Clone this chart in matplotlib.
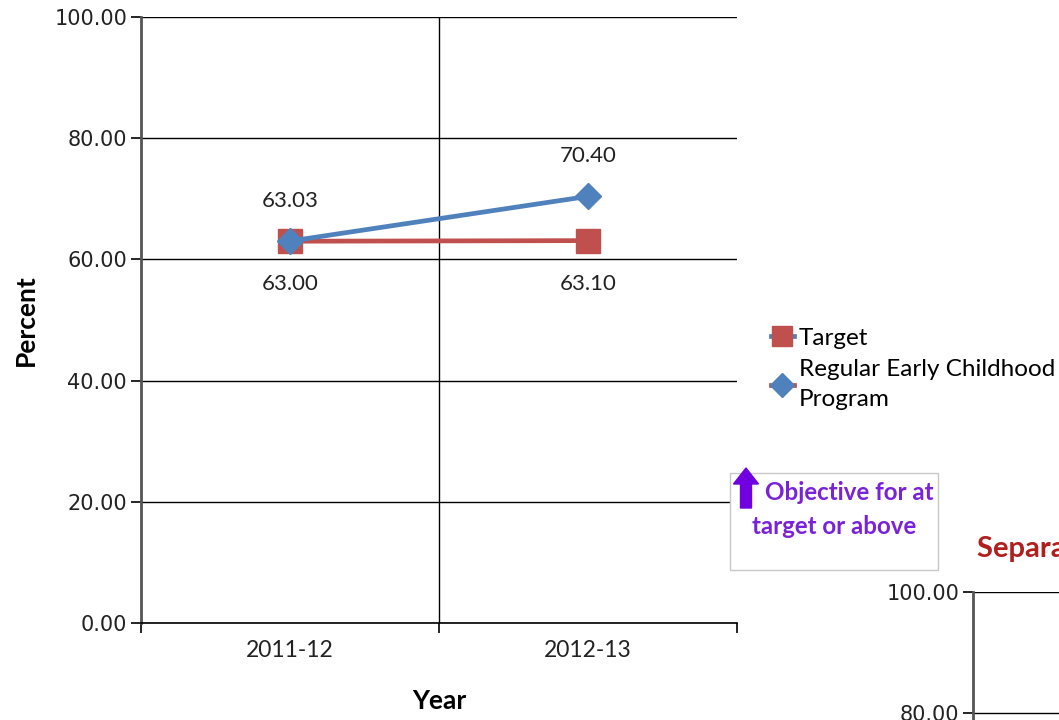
import matplotlib
matplotlib.use("Agg")
import matplotlib.pyplot as plt
from matplotlib.lines import Line2D
from matplotlib.patches import Rectangle, FancyArrow

years = ["2011-12", "2012-13"]
target = [63.00, 63.10]
program = [63.03, 70.40]
yticks = [0, 20, 40, 60, 80, 100]
series_names = ["Target", "Regular Early Childhood\nProgram"]
blue = "#4F81BD"
red = "#C0504D"
CAL = ["Lato", "DejaVu Sans"]

W, H = 1059, 720
fig = plt.figure(figsize=(W / 100, H / 100), dpi=100)

def fx(px):
    return px / W

def fy(py):
    return 1 - py / H

ax = fig.add_axes([fx(141), fy(623), fx(737) - fx(141), fy(17) - fy(623)])
xs = list(range(len(years)))
ax.plot(xs, target, color=red, lw=3.4, marker="s", ms=17, mfc=red, mec=red, zorder=3)
ax.plot(xs, program, color=blue, lw=3.4, marker="D", ms=13, mfc=blue, mec=blue, zorder=4)

for x, v in zip(xs, target):
    ax.annotate(f"{v:.2f}", (x, v), xytext=(0, -31), textcoords="offset points",
                ha="center", va="center", fontsize=16, family=CAL, color="#222222")
for x, v in zip(xs, program):
    ax.annotate(f"{v:.2f}", (x, v), xytext=(0, 29), textcoords="offset points",
                ha="center", va="center", fontsize=16, family=CAL, color="#222222")

ax.set_xlim(-0.5, len(years) - 0.5)
ax.set_ylim(0, 100)
ax.set_yticks(yticks)
ax.set_yticklabels([f"{t:.2f}" for t in yticks], fontsize=15, family="DejaVu Sans", color="#222222")
ax.yaxis.grid(True, color="black", lw=1.0)
ax.set_xticks([-0.5, 0.5, 1.5])
ax.set_xticklabels(["", "", ""])
ax.set_xticks(xs, minor=True)
ax.set_xticklabels(years, minor=True, fontsize=16.5, family=CAL, color="#222222")
ax.tick_params(axis="x", which="minor", length=0, pad=12)
ax.tick_params(axis="x", which="major", length=7, width=1.2, direction="out")
ax.tick_params(axis="y", length=7, width=1.2, direction="out", pad=3)
ax.axvline(0.5, color="black", lw=1.0, zorder=1)
for s in ["top", "right"]:
    ax.spines[s].set_visible(False)
ax.spines["left"].set_linewidth(2.0)
ax.spines["left"].set_color("#555555")
ax.spines["bottom"].set_linewidth(1.2)
ax.set_axisbelow(True)

fig.text(fx(26), fy(320), "Percent", rotation=90, ha="center", va="center",
         fontsize=19, fontweight="bold", family=CAL)
fig.text(fx(439), fy(701), "Year", ha="center", va="center",
         fontsize=19, fontweight="bold", family=CAL)

# legend (colours as in the reference)
h1 = Line2D([], [], color=blue, lw=3.4, marker="s", ms=15, mfc=red, mec=red)
h2 = Line2D([], [], color=red, lw=3.4, marker="D", ms=12, mfc=blue, mec=blue)
leg = fig.legend([h1, h2], series_names, loc="upper left", bbox_to_anchor=(fx(749), fy(306)),
                 frameon=False, handlelength=0.95, handletextpad=0.2, labelspacing=0.42,
                 borderpad=0.4, prop={"family": CAL, "size": 17.5})
for t in leg.get_texts():
    t.set_linespacing(1.55)

# objective box
fig.add_artist(Rectangle((fx(730), fy(570)), fx(938) - fx(730), fy(473) - fy(570),
                         transform=fig.transFigure, fill=True, facecolor="white",
                         edgecolor="#C8C8C8", lw=1.0))
fig.add_artist(FancyArrow(fx(746), fy(508), 0, fy(468) - fy(508), width=fx(11),
                          head_width=fx(25), head_length=(fy(468) - fy(508)) * 0.4,
                          length_includes_head=True, color="#7000E0",
                          transform=fig.transFigure))
fig.text(fx(765), fy(493), "Objective for at", ha="left", va="center", fontsize=17.4,
         fontweight="bold", family=CAL, color="#7a22d8")
fig.text(fx(834), fy(526), "target or above", ha="center", va="center", fontsize=17.4,
         fontweight="bold", family=CAL, color="#7a22d8")

# second (partially visible) chart
ax2 = fig.add_axes([fx(973), fy(592 + 605), 0.5, fy(592) - fy(592 + 605)])
ax2.set_ylim(0, 100)
ax2.set_xlim(0, 1)
ax2.set_yticks(yticks)
ax2.set_yticklabels([f"{t:.2f}" for t in yticks], fontsize=15, family="DejaVu Sans", color="#222222")
ax2.yaxis.grid(True, color="black", lw=1.0)
ax2.set_xticks([])
ax2.tick_params(axis="y", length=7, width=1.2, direction="out", pad=3)
for s in ["top", "right"]:
    ax2.spines[s].set_visible(False)
ax2.spines["left"].set_linewidth(2.0)
ax2.spines["left"].set_color("#555555")
fig.text(fx(977), fy(549), "Separate Class", ha="left", va="center", fontsize=21,
         fontweight="bold", family=CAL, color="#B01E1E")

fig.savefig("out.png", dpi=100)
